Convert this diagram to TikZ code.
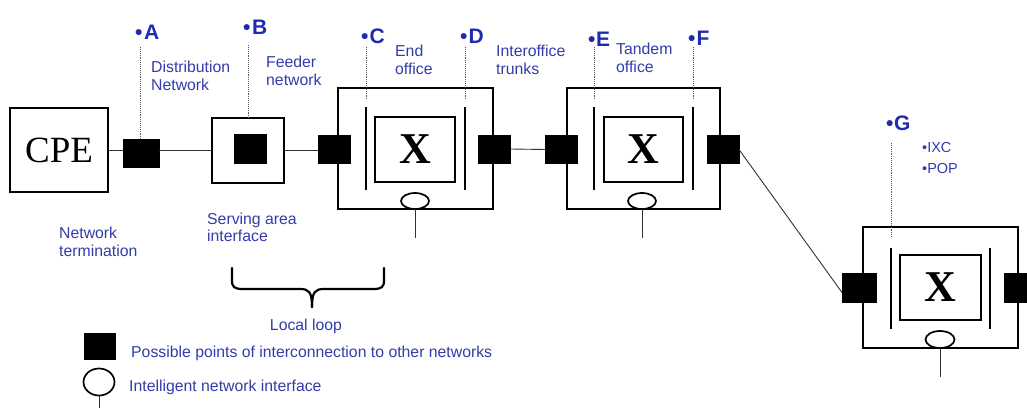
\documentclass[tikz,border=0pt]{standalone}
\usepackage{fontspec}
\setmainfont{Liberation Sans}
\newfontfamily\serifface{Liberation Serif}
\usetikzlibrary{shapes.geometric}
\definecolor{txtblue}{RGB}{50,60,170}
\definecolor{ptblue}{RGB}{30,42,175}
\definecolor{wiregray}{RGB}{50,50,50}

\begin{document}
\begin{tikzpicture}[x=1pt,y=-1pt,
  box/.style={draw,line width=1.8pt,inner sep=0,outer sep=0},
  port/.style={fill=black,draw=black,line width=0.5pt,inner sep=0,outer sep=0,minimum width=32pt,minimum height=28pt},
  xbox/.style={box,minimum width=80pt,minimum height=65pt,font=\serifface\bfseries\fontsize{44}{44}\selectfont},
  wire/.style={line width=0.9pt,draw=wiregray},
  bar/.style={line width=2.8pt},
  probe/.style={densely dotted,line width=0.9pt,draw=gray!70!black},
  ini/.style={draw,ellipse,line width=1.7pt,minimum width=28pt,minimum height=16pt,inner sep=0,outer sep=0,fill=white},
  lbl/.style={text=txtblue,font=\fontsize{15.8}{18}\selectfont,align=left,anchor=north west,inner sep=0},
  ptlbl/.style={text=ptblue,font=\fontsize{21}{21}\selectfont\bfseries,anchor=base west,inner sep=0}
]
\useasboundingbox (0,0) rectangle (1027,407);

% customer premises and distribution point
\node[box,minimum width=98pt,minimum height=84pt,font=\serifface\fontsize{37}{37}\selectfont] (cpe) at (59,150) {CPE};
\node[port,minimum width=36pt] (pA) at (141,153) {};
\draw[wire] (cpe.east) -- (cpe.east -| pA.west);

% serving area interface
\node[box,minimum width=72pt,minimum height=65pt] (sai) at (248,150.5) {};
\node[port,minimum width=32pt,minimum height=29pt] (pB) at (250,148.5) {};
\draw[wire] (pA.east |- sai.west) -- (sai.west);

% end office
\node[box,minimum width=155pt,minimum height=121pt] (eo) at (415.5,148.5) {};
\node[xbox] (eox) at (415,149.5) {X};
\draw[bar] (366,107) -- (366,190);
\draw[bar] (465,107) -- (465,190);
\node[port] (eoL) at (334,149) {};
\node[port] (eoR) at (494.5,149) {};
\node[ini] (eoi) at (415,201) {};
\coordinate (eoS) at (415,238);
\draw[wire] (eoi.south) -- (eoS);
\draw[wire] (sai.east) -- (sai.east -| eoL.west);

% tandem office
\node[box,minimum width=153pt,minimum height=121pt] (to) at (643.5,148.5) {};
\node[xbox,minimum width=79pt] (tox) at (643.5,149.5) {X};
\draw[bar] (594,107) -- (594,190);
\draw[bar] (693,107) -- (693,190);
\node[port] (toL) at (561.5,149.5) {};
\node[port] (toR) at (723,149.5) {};
\node[ini] (toi) at (642,201) {};
\coordinate (toS) at (642,238);
\draw[wire] (toi.south) -- (toS);
\draw[wire] (eoR.east) -- (toL.west);

% interexchange carrier point of presence
\node[box,minimum width=155pt,minimum height=121pt] (ixc) at (940.5,287.5) {};
\node[xbox,minimum width=81pt] (ixcx) at (940.5,287.5) {X};
\draw[bar] (891,248) -- (891,329);
\draw[bar] (990,248) -- (990,329);
\node[port,minimum width=34pt,minimum height=29pt] (gL) at (859,287.5) {};
\node[port,minimum width=34pt,minimum height=29pt] (gR) at (1021,287.5) {};
\node[ini,minimum width=29pt,minimum height=17pt] (gi) at (940,339.5) {};
\coordinate (gS) at (940,377);
\draw[wire] (gi.south) -- (gS);
\draw[wire] (toR.east) -- ([yshift=-5pt]gL.west);

% reference points
\coordinate (tA) at (140,47);
\coordinate (tB) at (248,45);
\coordinate (tC) at (366,47);  \coordinate (bC) at (366,100);
\coordinate (tD) at (465,47);  \coordinate (bD) at (465,100);
\coordinate (tE) at (594,47);  \coordinate (bE) at (594,100);
\coordinate (tF) at (693,47);  \coordinate (bF) at (693,100);
\coordinate (tG) at (891,143); \coordinate (bG) at (891,237);
\draw[probe] (tA) -- (tA |- pA.north);
\draw[probe] (tB) -- (tB |- sai.north);
\draw[probe] (tC) -- (bC);
\draw[probe] (tD) -- (bD);
\draw[probe] (tE) -- (bE);
\draw[probe] (tF) -- (bF);
\draw[probe] (tG) -- (bG);

\node[ptlbl] (lA) at (135,39) {•\kern1.5pt A};
\node[ptlbl] (lB) at (243,34) {•\kern1.5pt B};
\node[ptlbl] (lC) at (361,43) {•\kern1pt C};
\node[ptlbl] (lD) at (460,43) {•\kern1pt D};
\node[ptlbl] (lE) at (588,46) {•\kern0.5pt E};
\node[ptlbl] (lF) at (688,45) {•\kern1pt F};
\node[ptlbl] (lG) at (886,130) {•\kern0.5pt G};

% descriptive labels
\node[lbl] (dist) at (151,61) {Distribution\\Network};
\node[lbl] (feed) at (266,56) {Feeder\\network};
\node[lbl] (endo) at (395,45) {End\\office};
\node[lbl] (trunk) at (496,45) {Interoffice\\trunks};
\node[lbl] (tand) at (616,43) {Tandem\\office};
\node[lbl,font=\fontsize{14.5}{21}\selectfont] (pop) at (922,142) {•IXC\\•POP};
\node[lbl,font=\fontsize{15.8}{17}\selectfont] (serv) at (207,213) {Serving area\\interface};
\node[lbl] (nterm) at (59,227) {Network\\termination};

% local loop brace
\coordinate (brL) at (232,268);
\coordinate (brR) at (384,268);
\coordinate (brT) at (312,307);
\draw[line width=2.2pt,line cap=round] (brL) -- (232,280) .. controls (232,287) and (234,289) .. (243,289) -- (300,289) .. controls (309,289) and (312,292) .. (brT);
\draw[line width=2.2pt,line cap=round] (brR) -- (384,280) .. controls (384,287) and (382,289) .. (373,289) -- (324,289) .. controls (315,289) and (312,292) .. (brT);
\node[text=txtblue,font=\fontsize{15.8}{18}\selectfont,anchor=base,inner sep=0] (loop) at (306,330) {Local loop};

% legend
\node[port,minimum width=31pt,minimum height=26pt] (legP) at (99.5,346) {};
\node[text=txtblue,font=\fontsize{15.8}{18}\selectfont,anchor=base west,inner sep=0] (legPt) at (131,357) {Possible points of interconnection to other networks};
\node[ini,minimum width=31pt,minimum height=27pt] (legI) at (99,382) {};
\coordinate (legS) at (99,410);
\draw[wire] (legI.south) -- (legS);
\node[text=txtblue,font=\fontsize{15.8}{18}\selectfont,anchor=base west,inner sep=0] (legIt) at (129,391) {Intelligent network interface};
\end{tikzpicture}
\end{document}
